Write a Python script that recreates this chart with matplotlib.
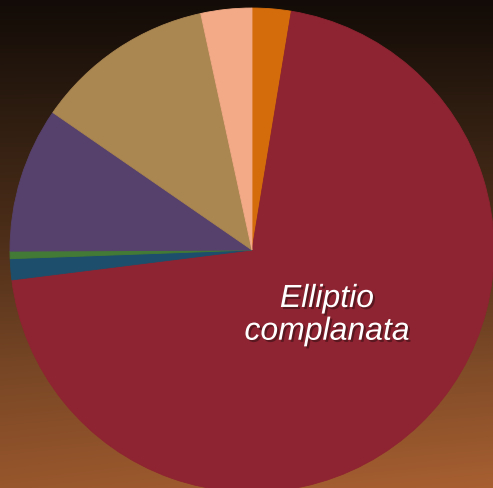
import matplotlib.pyplot as plt
import matplotlib.patheffects as pe
import numpy as np

# share of each species (percent), clockwise from the top
species = ['Species A', 'Elliptio complanata', 'Species C', 'Species D',
           'Species E', 'Species F', 'Species G']
shares = [2.6, 70.5, 1.4, 0.5, 9.7, 12.0, 3.4]
colors = ['#d46c0b', '#8e2331', '#1d4f6c', '#437a35', '#56416c', '#aa8651', '#f3aa87']

fig = plt.figure(figsize=(4.93, 4.89), dpi=100)

# brown backdrop, dark at the top and warmer toward the bottom
bg = fig.add_axes([0, 0, 1, 1])
ys = np.linspace(0, 1, 300)[:, None]
xs = np.linspace(0, 1, 300)[None, :]
stops = np.array([0.0, 0.25, 0.5, 0.75, 1.0])
top = np.array([[18, 11, 7], [48, 30, 17], [80, 48, 26], [122, 72, 38], [158, 90, 46]]) / 255
grad = np.zeros((300, 300, 3))
for c in range(3):
    col = np.interp(ys[:, 0], stops, top[:, c])[:, None]
    grad[:, :, c] = col * (1 + 0.10 * ys * (xs - 0.4))
bg.imshow(np.clip(grad, 0, 1), extent=[0, 1, 0, 1], aspect='auto', origin='upper')
bg.axis('off')

ax = fig.add_axes([0.0203, -0.0082, 0.9817, 0.9898])
wedges, _ = ax.pie(shares, colors=colors, startangle=90, counterclock=False,
                   wedgeprops=dict(linewidth=0.6))
for w, c in zip(wedges, colors):
    w.set_edgecolor(c)
ax.set_xlim(-1, 1)
ax.set_ylim(-1, 1)
ax.set_aspect('equal')

ax.text(0.31, -0.27, 'Elliptio\ncomplanata', color='white', fontsize=23,
        style='italic', family='Liberation Sans', ha='center', va='center',
        linespacing=1.12,
        path_effects=[pe.SimplePatchShadow(offset=(1.5, -1.5), shadow_rgbFace='#1a0a0a', alpha=0.45),
                      pe.Normal()])

fig.savefig('out.png', dpi=100)
